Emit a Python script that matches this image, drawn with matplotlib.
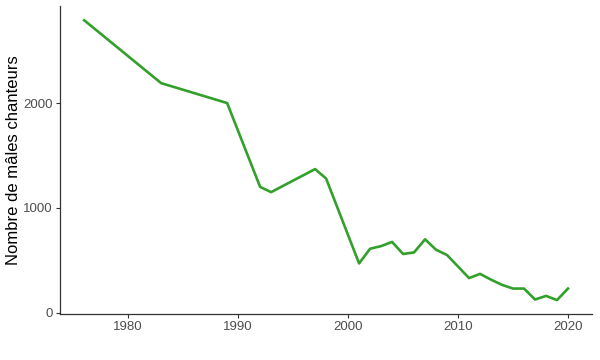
import matplotlib
matplotlib.use("Agg")
import matplotlib.pyplot as plt

# effectifs de mâles chanteurs par année
annees = [1976, 1983, 1989, 1992, 1993, 1997, 1998, 2001, 2002, 2003, 2004,
          2005, 2006, 2007, 2008, 2009, 2010, 2011, 2012, 2013, 2014, 2015,
          2016, 2017, 2018, 2019, 2020]
males = [2790, 2190, 2000, 1200, 1150, 1370, 1280, 470, 610, 635, 675,
         560, 575, 700, 600, 550, 440, 330, 370, 315, 265, 230,
         230, 125, 160, 120, 230]

x_ticks = [1980, 1990, 2000, 2010, 2020]
y_ticks = [0, 1000, 2000]

plt.rcParams['font.family'] = ['Liberation Sans', 'DejaVu Sans']

fig = plt.figure(figsize=(6, 3.6), dpi=100)
ax = fig.add_axes([0.1, 0.128, 0.887, 0.855])

ax.plot(annees, males, color='#33a02c', linewidth=1.9, solid_joinstyle='round')

ax.set_xlim(1973.8, 2022.2)
ax.set_ylim(-12, 2925)
ax.set_xticks(x_ticks)
ax.set_yticks(y_ticks)
ax.tick_params(colors='#333333', labelcolor='#4d4d4d', labelsize=9.5, length=3, width=0.8, pad=2)
ax.set_ylabel('Nombre de mâles chanteurs', fontsize=12, color='black', labelpad=2)

for s in ['top', 'right']:
    ax.spines[s].set_visible(False)
for s in ['left', 'bottom']:
    ax.spines[s].set_color('#333333')
    ax.spines[s].set_linewidth(0.9)

fig.savefig('out.png', dpi=100)
